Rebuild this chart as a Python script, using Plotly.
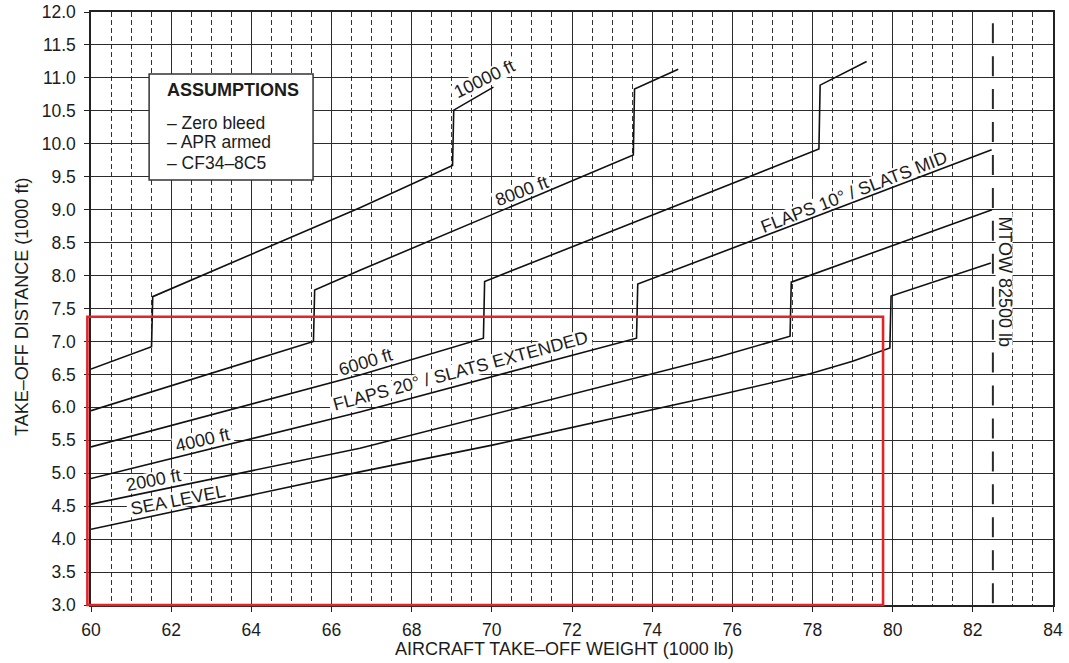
import math
import plotly.graph_objects as go

# ---------------- layout constants ----------------
W, H = 1069, 663
ML, MR, MT, MB = 91, 16, 12, 58
FONT = "Liberation Sans, Arial, Helvetica, sans-serif"
INK = "#1c1c1c"

X_RANGE = [60, 84]
Y_RANGE = [3.0, 12.0]

# ---------------- data (weight 1000 lb, distance 1000 ft) ----------------
SEA_LEVEL_W = [60.0, 66.71, 70.04, 75.69, 77.94, 79.0, 79.93, 79.96, 82.45]
SEA_LEVEL_D = [4.15, 5.02, 5.43, 6.19, 6.51, 6.70, 6.90, 7.69, 8.19]

FT2000_W = [60.0, 66.71, 75.69, 77.44, 77.47, 82.48]
FT2000_D = [4.53, 5.38, 6.77, 7.08, 7.90, 9.00]

FT4000_W = [60.0, 66.71, 73.61, 73.64, 82.47]
FT4000_D = [4.92, 5.93, 7.05, 7.87, 9.91]

FT6000_W = [60.0, 66.71, 69.79, 69.82, 78.16, 78.19, 79.35]
FT6000_D = [5.40, 6.49, 7.05, 7.91, 9.92, 10.89, 11.25]

FT8000_W = [60.0, 65.55, 65.58, 66.71, 73.53, 73.56, 74.65]
FT8000_D = [5.95, 7.00, 7.78, 8.08, 9.83, 10.83, 11.13]

FT10000_W = [60.0, 61.51, 61.54, 66.71, 69.02, 69.05, 70.04]
FT10000_D = [6.58, 6.92, 7.68, 9.03, 9.67, 10.51, 10.86]

MTOW_W = 82.5
MTOW_TOP = 11.83

RED_BOX = [59.91, 79.76, 3.0, 7.375]          # x0, x1, y0, y1
ASSUMPTION_BOX = [61.45, 65.54, 9.45, 11.06]  # x0, x1, y0, y1

# curve labels: text, x, y, angle
LABELS = [
    ("10000 ft", 69.81, 10.98, -26),
    ("8000 ft", 70.75, 9.29, -21),
    ("6000 ft", 66.86, 6.69, -17),
    ("FLAPS 20° / SLATS EXTENDED", 69.21, 6.55, -15),
    ("4000 ft", 62.79, 5.50, -13),
    ("2000 ft", 61.57, 4.89, -11),
    ("SEA LEVEL", 62.17, 4.60, -11),
    ("FLAPS 10° / SLATS MID", 79.04, 9.27, -21),
]
MTOW_LABEL = ("MTOW 82500 lb", 82.78, 7.91, 90)

ASSUMPTION_TITLE = "ASSUMPTIONS"
ASSUMPTION_LINES = ["– Zero bleed", "– APR armed", "– CF34–8C5"]
ASSUMPTION_TEXT_X = 61.85
ASSUMPTION_TEXT_Y = [10.82, 10.32, 10.02, 9.71]

X_TITLE = "AIRCRAFT TAKE–OFF WEIGHT (1000 lb)"
Y_TITLE = "TAKE–OFF DISTANCE (1000 ft)"

# ---------------- helpers ----------------
PLOT_W = W - ML - MR
PLOT_H = H - MT - MB
PXU_X = PLOT_W / (X_RANGE[1] - X_RANGE[0])
PXU_Y = PLOT_H / (Y_RANGE[1] - Y_RANGE[0])

ARIAL_W = {
    "0": .556, "1": .556, "2": .556, "3": .556, "4": .556, "5": .556, "6": .556,
    "7": .556, "8": .556, "9": .556, " ": .278, "f": .278, "t": .278, "l": .222,
    "b": .556, "°": .4, "/": .278, "A": .667, "B": .667, "C": .722, "D": .722,
    "E": .667, "F": .611, "I": .278, "L": .556, "M": .833, "N": .722, "O": .778,
    "P": .667, "S": .667, "T": .611, "V": .667, "W": .944, "X": .667,
}


def text_w(s, size):
    return sum(ARIAL_W.get(c, .6) for c in s) * size


def rot_rect_path(cx, cy, ang, w_px, h_px):
    a = math.radians(ang)
    pts = []
    for sx, sy in [(-1, -1), (1, -1), (1, 1), (-1, 1)]:
        px, py = sx * w_px / 2, sy * h_px / 2
        rx = px * math.cos(a) - py * math.sin(a)
        ry = px * math.sin(a) + py * math.cos(a)
        pts.append((cx + rx / PXU_X, cy - ry / PXU_Y))
    return "M " + " L ".join(f"{x:.4f},{y:.4f}" for x, y in pts) + " Z"


def to_paper_x(v):
    return (v - X_RANGE[0]) / (X_RANGE[1] - X_RANGE[0])


def to_paper_y(v):
    return (v - Y_RANGE[0]) / (Y_RANGE[1] - Y_RANGE[0])


# ---------------- figure ----------------
fig = go.Figure()

for xs, ys in [(SEA_LEVEL_W, SEA_LEVEL_D), (FT2000_W, FT2000_D), (FT4000_W, FT4000_D),
               (FT6000_W, FT6000_D), (FT8000_W, FT8000_D), (FT10000_W, FT10000_D)]:
    fig.add_trace(go.Scatter(x=xs, y=ys, mode="lines",
                             line=dict(color="#111111", width=1.6),
                             hoverinfo="skip", showlegend=False))

cell_px = PXU_Y * 0.5
fig.add_trace(go.Scatter(x=[MTOW_W, MTOW_W], y=[MTOW_TOP, Y_RANGE[0]], mode="lines",
                         line=dict(color="#2a2a2a", width=2,
                                   dash=f"20px,{cell_px - 20:.2f}px"),
                         hoverinfo="skip", showlegend=False))

shapes = []
annotations = []
LABEL_SIZE = 18

for txt, x, y, ang in LABELS + [MTOW_LABEL]:
    shapes.append(dict(type="path", xref="x", yref="y", layer="between",
                       path=rot_rect_path(x, y, ang, text_w(txt, LABEL_SIZE) + 6, 17),
                       fillcolor="white", line=dict(width=0)))
    annotations.append(dict(text=txt, x=x, y=y, xref="x", yref="y", showarrow=False,
                            textangle=ang, xanchor="center", yanchor="middle",
                            font=dict(family=FONT, size=LABEL_SIZE, color=INK)))

# assumptions box
bx0, bx1, by0, by1 = ASSUMPTION_BOX
shapes.append(dict(type="rect", xref="x", yref="y", layer="between",
                   x0=bx0, x1=bx1, y0=by0, y1=by1,
                   fillcolor="white", line=dict(color="#333333", width=1.5)))
annotations.append(dict(text=f"<b>{ASSUMPTION_TITLE}</b>", x=ASSUMPTION_TEXT_X,
                        y=ASSUMPTION_TEXT_Y[0], xref="x", yref="y", showarrow=False,
                        xanchor="left", yanchor="middle",
                        font=dict(family=FONT, size=18, color=INK)))
for line_txt, yy in zip(ASSUMPTION_LINES, ASSUMPTION_TEXT_Y[1:]):
    annotations.append(dict(text=line_txt, x=ASSUMPTION_TEXT_X, y=yy, xref="x", yref="y",
                            showarrow=False, xanchor="left", yanchor="middle",
                            font=dict(family=FONT, size=17.5, color=INK)))

# red highlight rectangle
rx0, rx1, ry0, ry1 = RED_BOX
shapes.append(dict(type="rect", xref="paper", yref="paper", layer="above",
                   x0=to_paper_x(rx0), x1=to_paper_x(rx1),
                   y0=to_paper_y(ry0), y1=to_paper_y(ry1),
                   line=dict(color="#e0262b", width=2.6), fillcolor="rgba(0,0,0,0)"))

# axis titles
annotations.append(dict(text=X_TITLE, xref="paper", yref="paper", x=0.492,
                        y=-(649 - (H - MB)) / PLOT_H, showarrow=False,
                        xanchor="center", yanchor="middle",
                        font=dict(family=FONT, size=18, color=INK)))
annotations.append(dict(text=Y_TITLE, xref="paper", yref="paper", x=(22 - ML) / PLOT_W,
                        y=0.5025, showarrow=False, textangle=-90,
                        xanchor="center", yanchor="middle",
                        font=dict(family=FONT, size=18, color=INK)))

minor_x = [X_RANGE[0] + 0.5 * i for i in range(1, 48)
           if i % 4 != 0 and X_RANGE[0] + 0.5 * i != MTOW_W]

fig.update_layout(
    width=W, height=H,
    margin=dict(l=ML, r=MR, t=MT, b=MB, pad=0, autoexpand=False),
    paper_bgcolor="white", plot_bgcolor="white",
    shapes=shapes, annotations=annotations,
    font=dict(family=FONT, size=18, color=INK),
    showlegend=False,
)
fig.update_xaxes(range=X_RANGE, dtick=2, tick0=60, showgrid=True, automargin=False,
                 gridcolor="#2b2b2b", gridwidth=1.2, zeroline=False,
                 showline=True, mirror=True, linecolor="#222222", linewidth=1.5,
                 ticks="outside", ticklen=5, tickcolor="#222222", tickwidth=1.2,
                 ticklabelstandoff=3,
                 tickfont=dict(family=FONT, size=17.5, color=INK),
                 minor=dict(tickmode="array", tickvals=minor_x, showgrid=True,
                            gridcolor="#333333", gridwidth=1, griddash="5px,3px",
                            ticks=""))
fig.update_yaxes(range=Y_RANGE, dtick=0.5, tick0=3, tickformat=".1f", showgrid=True,
                 automargin=False,
                 gridcolor="#2b2b2b", gridwidth=1, zeroline=False,
                 showline=True, mirror=True, linecolor="#222222", linewidth=1.5,
                 ticks="outside", ticklen=5, tickcolor="#222222", tickwidth=1,
                 ticklabelstandoff=5,
                 tickfont=dict(family=FONT, size=17.5, color=INK))

fig.write_html("out.html", config={"displayModeBar": False},
               post_script="document.body.style.margin='0';")
